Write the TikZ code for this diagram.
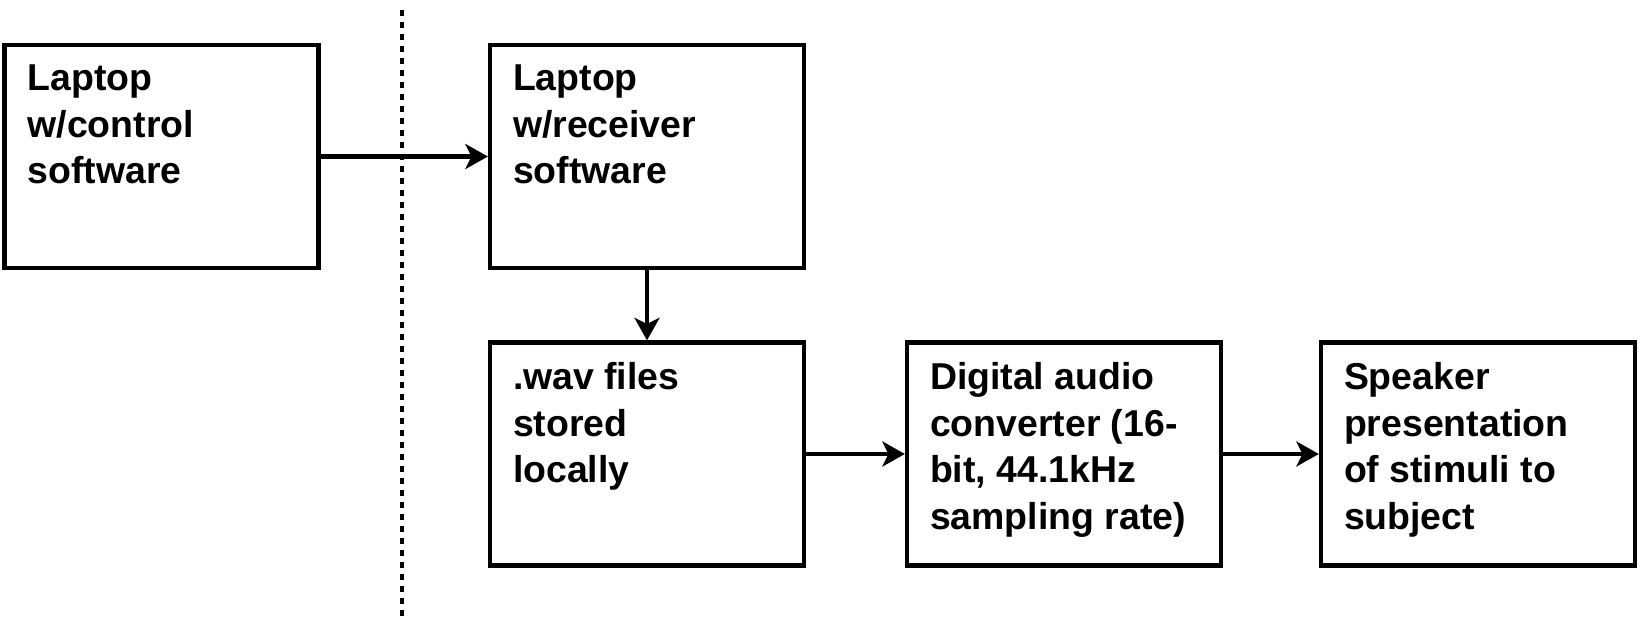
\documentclass[tikz,border=0pt]{standalone}
\usepackage{fontspec}
\setmainfont{Liberation Sans}
\usetikzlibrary{arrows.meta}

\tikzset{
  unit/.style={rectangle, draw, line width=0.85mm, inner xsep=0.46cm, inner ysep=0.4cm,
    font=\fontsize{21.3pt}{26.5pt}\selectfont\bfseries},
  flow/.style={-{Stealth[length=0.45cm, width=0.5cm, inset=0.12cm]}, line width=0.95mm}
}
\newcommand{\unittext}[1]{\parbox[c][3.66cm][t]{5.36cm}{\raggedright #1}}

\begin{document}
\begin{tikzpicture}[scale=1]
    \useasboundingbox (0,0) rectangle (32.84,12.4);

    % ノードの定義
    \node[unit] (ctrl) at (3.23, 9.27) {\unittext{Laptop\\w/control\\software}};
    \node[unit] (recv) at (12.94, 9.27) {\unittext{Laptop\\w/receiver\\software}};
    \node[unit] (wav) at (12.94, 3.32) {\unittext{.wav files\\stored\\locally}};
    \node[unit] (dac) at (21.28, 3.32) {\unittext{Digital audio\\converter (16-\\bit, 44.1kHz\\sampling rate)}};
    \node[unit] (spk) at (29.56, 3.32) {\unittext{Speaker\\presentation\\of stimuli to\\subject}};

    % 点線の区切り
    \coordinate (cutT) at (8.04, 12.2);
    \coordinate (cutB) at (8.04, -0.1);
    \draw[line width=0.7mm, dash pattern=on 0.12cm off 0.12cm] (cutT) -- (cutB);

    % 矢印
    \draw[flow] (ctrl) -- (recv);
    \draw[flow] (recv) -- (wav);
    \draw[flow] (wav) -- (dac);
    \draw[flow] (dac) -- (spk);

\end{tikzpicture}
\end{document}
